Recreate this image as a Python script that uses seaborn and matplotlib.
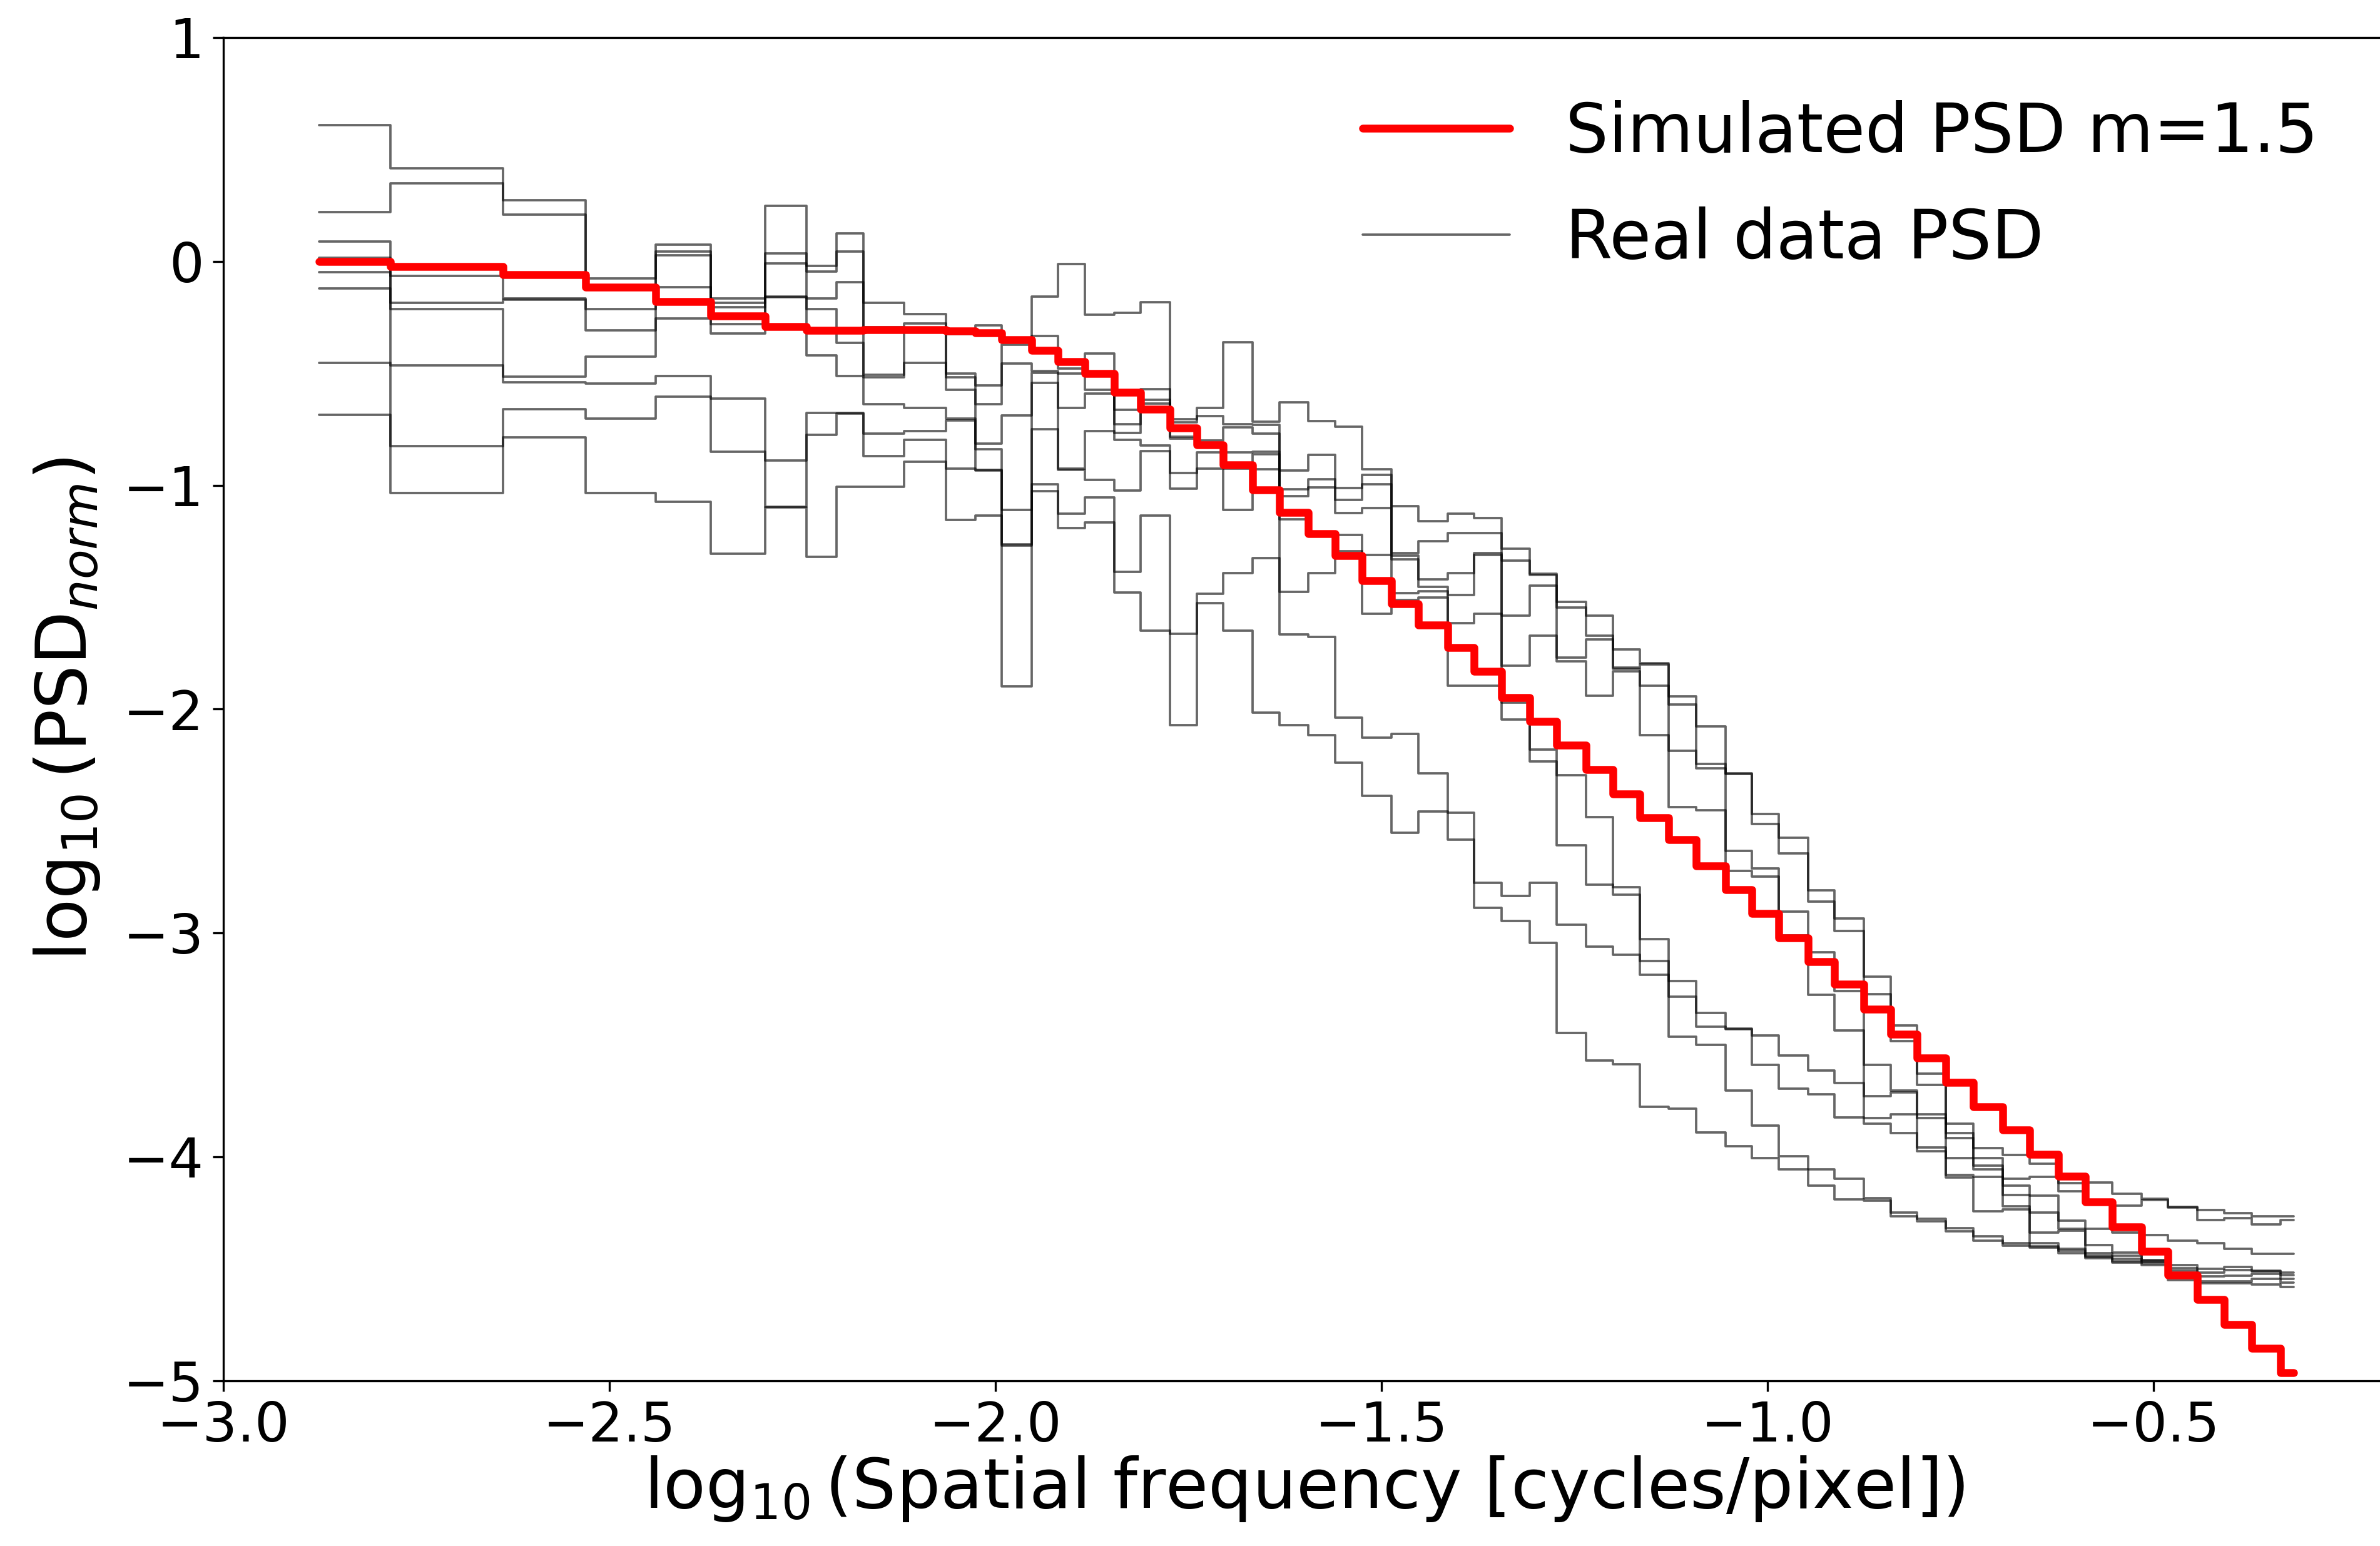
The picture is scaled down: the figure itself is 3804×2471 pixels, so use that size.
import pandas as pd
import seaborn as sns
import matplotlib.pyplot as plt
from matplotlib.lines import Line2D

# bin edges, log10 spatial frequency (shared by every curve)
freq_edges = [-2.876, -2.784, -2.638, -2.531, -2.440, -2.369, -2.298, -2.245, -2.206, -2.171,
              -2.118, -2.064, -2.026, -1.992, -1.953, -1.919, -1.884, -1.846, -1.812, -1.774,
              -1.739, -1.705, -1.667, -1.632, -1.595, -1.560, -1.525, -1.487, -1.452, -1.414,
              -1.380, -1.344, -1.308, -1.273, -1.235, -1.200, -1.165, -1.128, -1.092, -1.054,
              -1.020, -0.985, -0.947, -0.913, -0.875, -0.840, -0.806, -0.769, -0.733, -0.695,
              -0.660, -0.623, -0.588, -0.553, -0.515, -0.481, -0.443, -0.408, -0.373, -0.335,
              -0.318]

# simulated PSD, m = 1.5
psd_sim = [0.000, -0.023, -0.060, -0.114, -0.178, -0.245, -0.290, -0.309, -0.309, -0.306,
           -0.306, -0.312, -0.320, -0.349, -0.397, -0.448, -0.501, -0.585, -0.660, -0.743,
           -0.818, -0.909, -1.021, -1.122, -1.216, -1.314, -1.427, -1.528, -1.623, -1.725,
           -1.832, -1.947, -2.055, -2.160, -2.270, -2.380, -2.485, -2.583, -2.699, -2.806,
           -2.913, -3.022, -3.129, -3.228, -3.341, -3.452, -3.559, -3.667, -3.777, -3.880,
           -3.987, -4.087, -4.201, -4.312, -4.422, -4.529, -4.636, -4.749, -4.856, -4.963]

# real data PSDs
psd_real_1 = [0.610, 0.416, 0.274, -0.076, 0.074, -0.164, 0.247, -0.020, 0.124, -0.185,
              -0.234, -0.325, -0.285, -0.360, -0.157, -0.012, -0.237, -0.229, -0.181, -0.705,
              -0.655, -0.362, -0.715, -0.629, -0.712, -0.739, -0.929, -1.094, -1.161, -1.128,
              -1.146, -1.283, -1.395, -1.520, -1.582, -1.734, -1.796, -1.942, -2.076, -2.286,
              -2.468, -2.575, -2.809, -2.936, -3.195, -3.413, -3.629, -3.851, -3.960, -3.990,
              -4.031, -4.116, -4.114, -4.164, -4.186, -4.223, -4.237, -4.250, -4.264, -4.266]
psd_real_2 = [0.221, 0.349, 0.210, -0.120, 0.043, -0.185, 0.035, -0.044, 0.044, -0.293,
              -0.277, -0.501, -0.554, -0.373, -0.333, -0.477, -0.410, -0.662, -0.570, -0.720,
              -0.690, -0.726, -0.730, -0.933, -0.864, -1.011, -0.954, -1.303, -1.251, -1.213,
              -1.213, -1.336, -1.400, -1.547, -1.671, -1.814, -1.800, -1.978, -2.245, -2.290,
              -2.514, -2.645, -2.859, -2.990, -3.272, -3.482, -3.678, -3.892, -4.006, -4.096,
              -4.089, -4.154, -4.200, -4.218, -4.191, -4.225, -4.282, -4.274, -4.300, -4.282]
psd_real_3 = [0.090, -0.064, -0.164, -0.214, 0.028, -0.204, -0.010, -0.165, -0.092, -0.506,
              -0.300, -0.517, -0.638, -0.457, -0.490, -0.500, -0.574, -0.726, -0.619, -0.783,
              -0.801, -0.742, -0.769, -1.019, -0.974, -1.064, -0.996, -1.314, -1.420, -1.393,
              -1.303, -1.582, -1.449, -1.769, -1.689, -1.820, -1.894, -2.185, -2.263, -2.634,
              -2.711, -2.904, -3.085, -3.260, -3.588, -3.703, -3.810, -3.916, -4.039, -4.129,
              -4.173, -4.285, -4.320, -4.339, -4.348, -4.375, -4.384, -4.410, -4.432, -4.432]
psd_real_4 = [0.017, -0.185, -0.170, -0.307, -0.114, -0.281, -0.157, -0.213, -0.365, -0.517,
              -0.453, -0.574, -0.814, -0.689, -0.498, -0.654, -0.590, -0.766, -0.635, -0.790,
              -0.810, -0.854, -0.850, -1.049, -1.008, -1.123, -1.101, -1.330, -1.453, -1.490,
              -1.310, -1.805, -1.671, -1.787, -1.939, -1.832, -2.117, -2.438, -2.452, -2.723,
              -2.747, -3.010, -3.277, -3.436, -3.728, -3.711, -3.826, -4.006, -4.056, -4.170,
              -4.247, -4.322, -4.394, -4.426, -4.460, -4.482, -4.501, -4.491, -4.507, -4.517]
psd_real_5 = [-0.047, -0.214, -0.514, -0.425, -0.254, -0.321, -0.160, -0.421, -0.513, -0.638,
              -0.654, -0.702, -0.838, -1.111, -0.542, -0.926, -0.758, -0.798, -0.822, -0.944,
              -0.854, -0.926, -0.862, -1.153, -1.210, -1.221, -1.311, -1.483, -1.474, -1.617,
              -1.573, -1.971, -2.179, -2.295, -2.482, -2.794, -3.026, -3.213, -3.356, -3.427,
              -3.457, -3.547, -3.613, -3.670, -3.826, -3.810, -3.957, -4.080, -4.088, -4.220,
              -4.339, -4.330, -4.430, -4.442, -4.464, -4.496, -4.517, -4.506, -4.510, -4.528]
psd_real_6 = [-0.121, -0.464, -0.539, -0.546, -0.511, -0.613, -0.890, -0.678, -0.678, -0.769,
              -0.758, -0.710, -0.931, -1.263, -0.750, -0.930, -0.975, -1.023, -0.846, -1.015,
              -0.926, -1.111, -0.929, -1.475, -1.393, -1.293, -1.573, -1.513, -1.500, -1.894,
              -1.894, -2.046, -2.233, -2.607, -2.785, -2.830, -3.124, -3.284, -3.418, -3.430,
              -3.588, -3.695, -3.719, -3.823, -3.851, -3.892, -3.974, -4.092, -4.244, -4.233,
              -4.384, -4.410, -4.440, -4.455, -4.470, -4.507, -4.533, -4.531, -4.523, -4.544]
psd_real_7 = [-0.454, -0.824, -0.660, -0.703, -0.603, -0.851, -1.095, -0.774, -0.680, -0.870,
              -0.798, -0.926, -0.935, -1.270, -0.994, -1.127, -1.055, -1.388, -1.135, -1.664,
              -1.484, -1.392, -1.326, -1.667, -1.677, -2.037, -2.126, -2.111, -2.287, -2.463,
              -2.776, -2.833, -2.776, -2.964, -3.061, -3.097, -3.186, -3.463, -3.498, -3.703,
              -3.859, -3.998, -4.056, -4.096, -4.185, -4.249, -4.277, -4.318, -4.354, -4.384,
              -4.400, -4.420, -4.448, -4.465, -4.475, -4.539, -4.555, -4.555, -4.544, -4.560]
psd_real_8 = [-0.685, -1.034, -0.787, -1.034, -1.074, -1.305, -1.100, -1.319, -1.007, -1.007,
              -0.894, -1.156, -1.135, -1.897, -1.026, -1.191, -1.167, -1.480, -1.648, -2.072,
              -1.525, -1.648, -2.014, -2.071, -2.116, -2.239, -2.388, -2.553, -2.456, -2.583,
              -2.887, -2.946, -3.044, -3.445, -3.570, -3.587, -3.775, -3.783, -3.890, -3.953,
              -4.006, -4.056, -4.129, -4.190, -4.195, -4.266, -4.288, -4.331, -4.375, -4.397,
              -4.405, -4.430, -4.452, -4.471, -4.482, -4.549, -4.565, -4.565, -4.571, -4.581]

real_psds = [psd_real_1, psd_real_2, psd_real_3, psd_real_4,
             psd_real_5, psd_real_6, psd_real_7, psd_real_8]


def steps(vals):
    # repeat last level so steps-post closes the final bin
    return list(vals) + [vals[-1]]


sns.set_style('ticks', rc={'axes.edgecolor': 'black', 'xtick.color': 'black',
                           'ytick.color': 'black', 'text.color': 'black',
                           'axes.labelcolor': 'black', 'axes.linewidth': 0.8})
plt.rcParams['font.family'] = ['DejaVu Sans']
plt.rcParams['mathtext.fontset'] = 'dejavusans'

fig = plt.figure(figsize=(12.68, 8.2367), dpi=300)
ax = fig.add_axes([0.09385, 0.10684, 0.90826, 0.86888])

df_real = pd.concat([pd.DataFrame({'freq': freq_edges, 'psd': steps(v), 'trace': i})
                     for i, v in enumerate(real_psds)], ignore_index=True)

sns.lineplot(data=df_real, x='freq', y='psd', units='trace', estimator=None, sort=False,
             color='black', lw=0.9, alpha=0.6, drawstyle='steps-post', legend=False, ax=ax)
sns.lineplot(x=freq_edges, y=steps(psd_sim), estimator=None, errorbar=None, sort=False,
             color='red', lw=3.0, drawstyle='steps-post', ax=ax, zorder=3)

ax.set_xlim(-3.0, -0.2)
ax.set_ylim(-5, 1)
ax.set_xticks([-3.0, -2.5, -2.0, -1.5, -1.0, -0.5])
ax.set_yticks([1, 0, -1, -2, -3, -4, -5])
ax.tick_params(labelsize=21, length=4, width=0.8, direction='out')

ax.set_xlabel(r'$\log_{10}$(Spatial frequency [cycles/pixel])', fontsize=26.6, labelpad=0.5)
ax.set_ylabel(r'$\log_{10}$(PSD$_{norm}$)', fontsize=26.8, labelpad=8)

handles = [Line2D([], [], color='red', lw=3.0),
           Line2D([], [], color='black', lw=0.9, alpha=0.6)]
ax.legend(handles, ['Simulated PSD m=1.5', 'Real data PSD'], loc='upper left',
          bbox_to_anchor=(0.5726, 0.9352), bbox_transform=fig.transFigure,
          frameon=False, borderpad=0, borderaxespad=0, handlelength=2.17,
          handletextpad=0.82, labelspacing=0.59, fontsize=26)

fig.savefig('out.png', dpi=300)
plt.close(fig)
